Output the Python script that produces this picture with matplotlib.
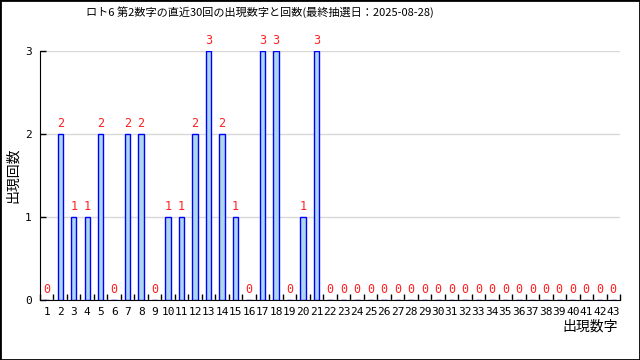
import matplotlib.pyplot as plt
from matplotlib.patches import Rectangle
import numpy as np

plt.rcParams['font.family'] = ['Noto Sans CJK JP', 'DejaVu Sans']

# data
numbers = list(range(1, 44))
counts = [0, 2, 1, 1, 2, 0, 2, 2, 0, 1, 1, 2, 3, 2, 1, 0, 3, 3, 0, 1, 3,
          0, 0, 0, 0, 0, 0, 0, 0, 0, 0, 0, 0, 0, 0, 0, 0, 0, 0, 0, 0, 0, 0]
title = 'ロト6 第2数字の直近30回の出現数字と回数(最終抽選日：2025-08-28)'

fig = plt.figure(figsize=(6.4, 3.6), dpi=100)
ax = fig.add_axes([40/640, 60/360, 580/640, 249/360])

ax.bar(numbers, counts, width=0.4, color='#add8e6', edgecolor='#0000ff',
       linewidth=1, zorder=3)

for n, c in zip(numbers, counts):
    ax.annotate(str(c), (n, c), xytext=(0, 3), textcoords='offset points',
                ha='center', va='bottom', color='#ff2020', fontsize=8.5,
                family='DejaVu Sans Mono', clip_on=False, zorder=4)

ax.set_xlim(0.5, 43.5)
ax.set_ylim(0, 3)
ax.set_yticks([0, 1, 2, 3])
ax.set_xticks(numbers)
ax.set_xticks(np.arange(0.5, 44, 1), minor=True)
ax.tick_params(axis='x', which='major', length=0, pad=5, labelsize=8)
ax.tick_params(axis='x', which='minor', direction='in', length=4, width=1)
ax.tick_params(axis='y', direction='in', length=4, width=1, labelsize=8, pad=6)
for lbl in ax.get_xticklabels() + ax.get_yticklabels():
    lbl.set_family('DejaVu Sans Mono')

ax.grid(axis='y', color='#d8d8d8', linewidth=1, zorder=0)
ax.spines['top'].set_visible(False)
ax.spines['right'].set_visible(False)

ax.set_ylabel('出現回数', fontsize=10)
ax.yaxis.set_label_coords(-20/580, 0.5)
fig.text(618/640, 1 - 327/360, '出現数字', ha='right', va='center', fontsize=10)
fig.text(260/640, 1 - 12/360, title, ha='center', va='center', fontsize=8)

fig.patches.append(Rectangle((0, 0), 1, 1, transform=fig.transFigure,
                             fill=False, edgecolor='black', linewidth=2))

fig.savefig('out.png', dpi=100)
